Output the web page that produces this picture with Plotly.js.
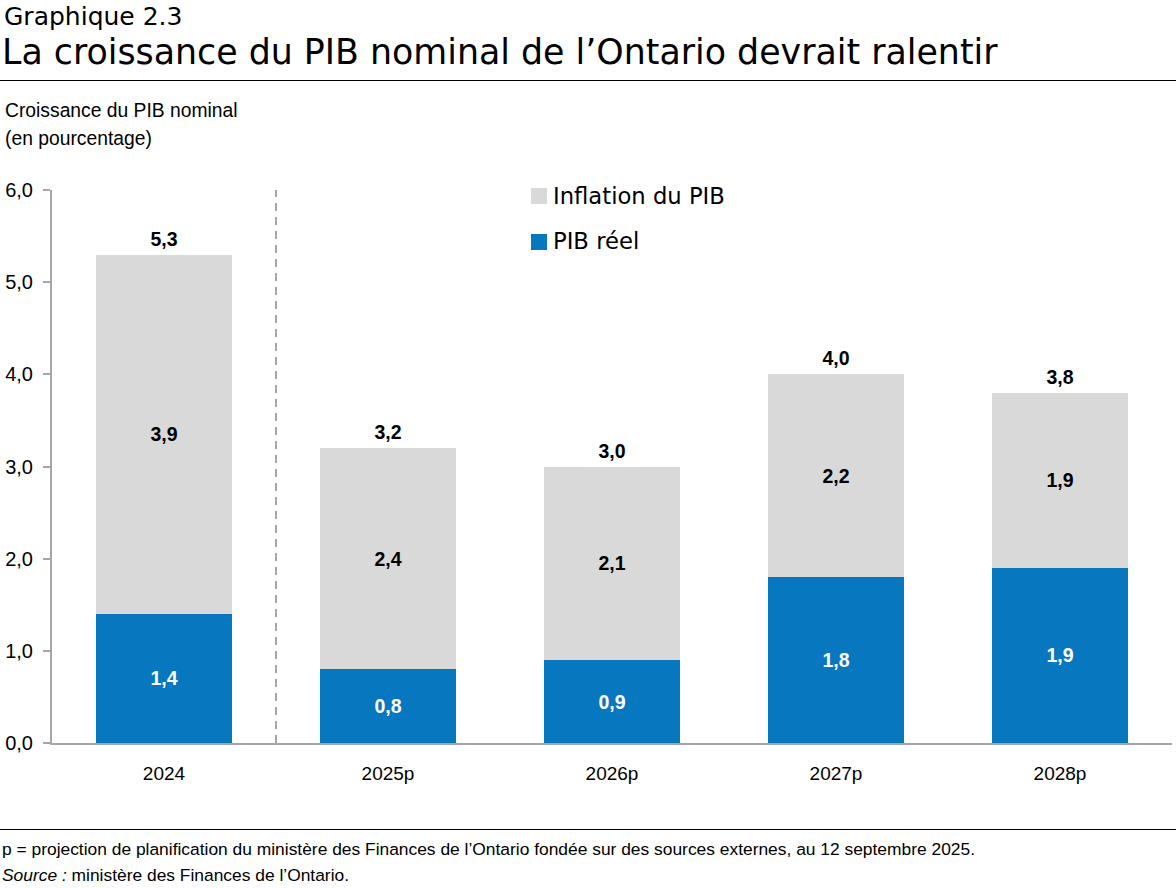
<!DOCTYPE html>
<html>
<head>
<meta charset="utf-8">
<script src="https://cdn.plot.ly/plotly-3.0.1.min.js"></script>
<style>
  html, body { margin: 0; padding: 0; background: #fff; }
  #chart { width: 1176px; height: 888px; }
</style>
</head>
<body>
<div id="chart"></div>
<script>
// ---- Data ----
const categories = ['2024', '2025p', '2026p', '2027p', '2028p'];
const pibReel = [1.4, 0.8, 0.9, 1.8, 1.9];
const inflationPib = [3.9, 2.4, 2.1, 2.2, 1.9];
const totals = [5.3, 3.2, 3.0, 4.0, 3.8];
const yTickVals = [0, 1, 2, 3, 4, 5, 6];
const yTickText = ['0,0', '1,0', '2,0', '3,0', '4,0', '5,0', '6,0'];
const seriesNames = ['Inflation du PIB', 'PIB réel'];

// ---- Layout helpers ----
const W = 1176, H = 888;
const M = { l: 52, r: 4, t: 190, b: 145 };
const PW = W - M.l - M.r, PH = H - M.t - M.b;
const px = x => (x - M.l) / PW;
const py = y => (H - M.b - y) / PH;
const fmt = v => v.toFixed(1).replace('.', ',');

const BLUE = '#0777C0';
const GREY = '#D9D9D9';
const AXIS = '#A6A6A6';
const CHART_FONT = 'Liberation Sans, Arial, sans-serif';
const HEAD_FONT = 'DejaVu Sans, Lato, sans-serif';

const traces = [
  {
    type: 'bar', name: seriesNames[1], x: categories, y: pibReel,
    marker: { color: BLUE },
    text: pibReel.map(fmt), textposition: 'inside', insidetextanchor: 'middle',
    textangle: 0, constraintext: 'none',
    textfont: { family: CHART_FONT, size: 19.5, color: '#FFFFFF', weight: 'bold' },
    hoverinfo: 'skip', showlegend: false
  },
  {
    type: 'bar', name: seriesNames[0], x: categories, y: inflationPib,
    marker: { color: GREY },
    text: inflationPib.map(fmt), textposition: 'inside', insidetextanchor: 'middle',
    textangle: 0, constraintext: 'none',
    textfont: { family: CHART_FONT, size: 19.5, color: '#000000', weight: 'bold' },
    hoverinfo: 'skip', showlegend: false
  },
  {
    type: 'scatter', mode: 'markers+text', x: categories, y: totals,
    marker: { size: 5, color: 'rgba(0,0,0,0)' },
    text: totals.map(fmt), textposition: 'top center',
    textfont: { family: CHART_FONT, size: 19.5, color: '#000000', weight: 'bold' },
    hoverinfo: 'skip', showlegend: false, cliponaxis: false
  }
];

const annotations = [
  { text: 'Graphique 2.3', x: px(2), y: py(17), xanchor: 'left', yanchor: 'middle',
    font: { family: HEAD_FONT, size: 25, color: '#000' } },
  { text: 'La croissance du PIB nominal de l’Ontario devrait ralentir', x: px(0), y: py(52),
    xanchor: 'left', yanchor: 'middle', font: { family: HEAD_FONT, size: 34.8, color: '#000' } },
  { text: 'Croissance du PIB nominal', x: px(3), y: py(110), xanchor: 'left', yanchor: 'middle',
    font: { family: CHART_FONT, size: 19.3, color: '#000' } },
  { text: '(en pourcentage)', x: px(3), y: py(139), xanchor: 'left', yanchor: 'middle',
    font: { family: CHART_FONT, size: 19.3, color: '#000' } },
  { text: seriesNames[0], x: px(551), y: py(196), xanchor: 'left', yanchor: 'middle',
    font: { family: HEAD_FONT, size: 22.7, color: '#000' } },
  { text: seriesNames[1], x: px(551), y: py(241), xanchor: 'left', yanchor: 'middle',
    font: { family: HEAD_FONT, size: 22.7, color: '#000' } },
  { text: 'p = projection de planification du ministère des Finances de l’Ontario fondée sur des sources externes, au 12 septembre 2025.',
    x: px(0), y: py(849), xanchor: 'left', yanchor: 'middle',
    font: { family: CHART_FONT, size: 17.4, color: '#000' } },
  { text: '<i>Source :</i> ministère des Finances de l’Ontario.',
    x: px(0), y: py(875), xanchor: 'left', yanchor: 'middle',
    font: { family: CHART_FONT, size: 17.4, color: '#000' } }
].map(a => Object.assign({ xref: 'paper', yref: 'paper', showarrow: false }, a));

const shapes = [
  { type: 'line', xref: 'paper', yref: 'paper', x0: px(0), x1: px(W), y0: py(80.5), y1: py(80.5),
    line: { color: '#000', width: 1 } },
  { type: 'line', xref: 'paper', yref: 'paper', x0: px(0), x1: px(W), y0: py(829.5), y1: py(829.5),
    line: { color: '#000', width: 1 } },
  { type: 'line', xref: 'x', yref: 'y', x0: 0.5, x1: 0.5, y0: 0, y1: 6,
    line: { color: AXIS, width: 2, dash: '8px,6px' }, layer: 'below' },
  { type: 'rect', xref: 'paper', yref: 'paper', x0: px(531), x1: px(547), y0: py(188), y1: py(204),
    fillcolor: GREY, line: { width: 0 } },
  { type: 'rect', xref: 'paper', yref: 'paper', x0: px(531), x1: px(547), y0: py(234), y1: py(250),
    fillcolor: BLUE, line: { width: 0 } }
];

const layout = {
  width: W, height: H,
  margin: M,
  paper_bgcolor: '#fff', plot_bgcolor: '#fff',
  barmode: 'stack', bargap: 0.39,
  separators: ', ',
  showlegend: false,
  font: { family: CHART_FONT, color: '#000' },
  xaxis: {
    type: 'category', showgrid: false, zeroline: false,
    showline: true, linecolor: AXIS, linewidth: 2,
    ticks: '', ticklabelstandoff: 12,
    tickfont: { family: CHART_FONT, size: 19, color: '#000' },
    fixedrange: true
  },
  yaxis: {
    range: [0, 6], tickvals: yTickVals, ticktext: yTickText,
    showgrid: false, zeroline: false,
    showline: true, linecolor: AXIS, linewidth: 2,
    ticks: 'outside', ticklen: 7, tickcolor: AXIS, tickwidth: 2,
    ticklabelstandoff: 6,
    tickfont: { family: CHART_FONT, size: 20, color: '#000' },
    fixedrange: true
  },
  annotations: annotations,
  shapes: shapes
};

Plotly.newPlot('chart', traces, layout, { displayModeBar: false, staticPlot: true });
</script>
</body>
</html>
